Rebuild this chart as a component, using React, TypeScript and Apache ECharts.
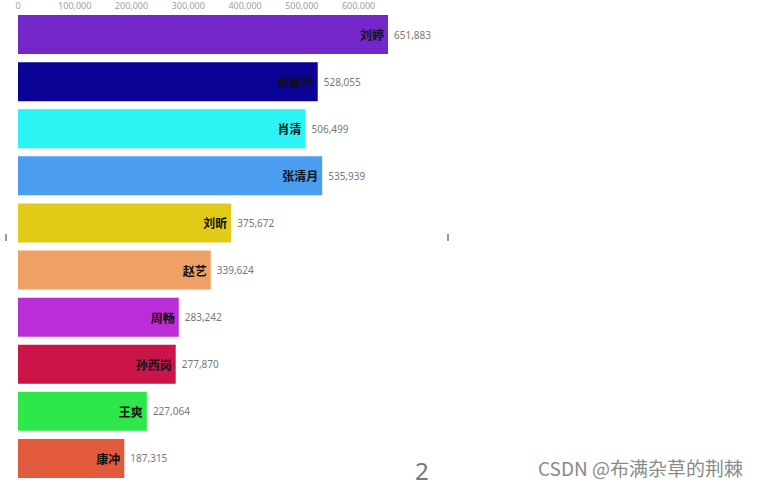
import React, { useEffect, useRef } from "react";
import * as echarts from "echarts";

const names = ["刘婷", "郝建平", "肖清", "张清月", "刘昕", "赵艺", "周畅", "孙西岗", "王爽", "康冲"];
const values = [651883, 528055, 506499, 535939, 375672, 339624, 283242, 277870, 227064, 187315];
const colors = ["#7327c8", "#0b0396", "#2cf4f4", "#4b9df0", "#e0cb16", "#efa064", "#b92ed6", "#cb1549", "#2ee84b", "#e15a3b"];
const timeText = "2";
const watermark = "CSDN @布满杂草的荆棘";

export default function App() {
  const ref = useRef<HTMLDivElement>(null);
  useEffect(() => {
    const chart = echarts.init(ref.current!, null, { renderer: "svg" });
    chart.setOption({
      animation: false,
      backgroundColor: "#ffffff",
      grid: { left: 18, right: 377, top: 11, bottom: 7, containLabel: false },
      xAxis: {
        type: "value",
        position: "top",
        max: "dataMax",
        min: 0,
        splitNumber: 6,
        axisLine: { show: false },
        axisTick: { show: false },
        splitLine: { show: false },
        axisLabel: { color: "#a0a0a0", fontSize: 9, margin: 1, fontFamily: "Noto Sans" },
      },
      yAxis: {
        type: "category",
        inverse: true,
        data: names,
        axisLine: { show: false },
        axisTick: { show: false },
        axisLabel: { show: false },
      },
      series: [
        {
          type: "bar",
          barWidth: 39,
          data: values.map((v, i) => ({ value: v, itemStyle: { color: colors[i] } })),
          label: {
            show: true,
            position: "right",
            distance: 6,
            color: "#777",
            fontSize: 10,
            fontFamily: "Noto Sans",
            formatter: (p: any) => p.value.toLocaleString("en-US"),
          },
        },
        {
          type: "bar",
          barWidth: 39,
          barGap: "-100%",
          data: values,
          itemStyle: { color: "transparent" },
          label: {
            show: true,
            position: "insideRight",
            distance: 4,
            color: "#111",
            fontWeight: "bold",
            fontSize: 12,
            fontFamily: "Noto Sans CJK SC",
            formatter: (p: any) => p.name,
          },
          silent: true,
        },
      ],
      graphic: [
        { type: "rect", left: 5, top: 234, shape: { width: 2, height: 7 }, style: { fill: "#9a9a9a" } },
        { type: "rect", left: 447, top: 234, shape: { width: 2, height: 7 }, style: { fill: "#9a9a9a" } },
        {
          type: "text",
          left: 415,
          top: 458,
          style: { text: timeText, fill: "#777", fontSize: 24, fontFamily: "Noto Sans" },
        },
        {
          type: "text",
          left: 538,
          top: 458,
          style: { text: watermark, fill: "#8a8a8a", fontSize: 19, fontFamily: "Noto Sans CJK SC" },
        },
      ],
    });
    return () => chart.dispose();
  }, []);
  return (
    <div
      ref={ref}
      style={{ position: "fixed", left: 0, top: 0, width: 765, height: 489, background: "#fff" }}
    />
  );
}
